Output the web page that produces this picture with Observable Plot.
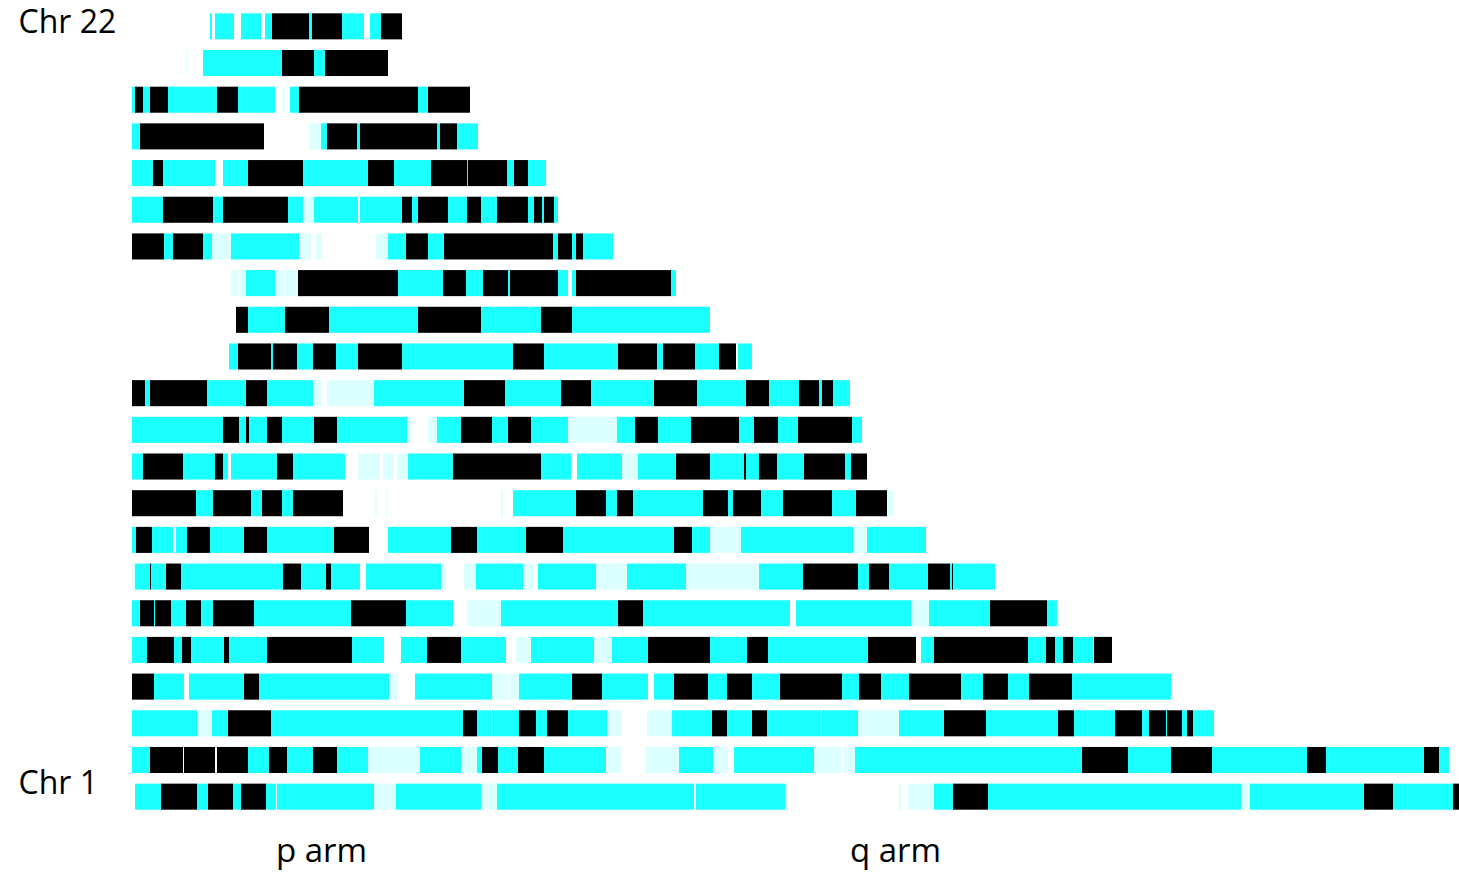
<!DOCTYPE html>
<html>
<head>
<meta charset="utf-8">
<script src="https://cdn.jsdelivr.net/npm/d3@7"></script>
<script src="https://cdn.jsdelivr.net/npm/@observablehq/plot@0.6"></script>
<style>
  html, body { margin: 0; padding: 0; background: #fff; }
  #chart { width: 1459px; height: 873px; }
</style>
</head>
<body>
<div id="chart"></div>
<script>
// Row order, top to bottom
const rows = ["22","21","20","19","18","17","16","15","14","13","12","11","10","9","8","7","6","5","4","3","2","1"];
const rowLabels = [["22", "Chr 22"], ["1", "Chr 1"]];
const armLabels = ["p arm", "q arm"];
const armCenters = [189, 763];
const types = ["c", "k", "l"];
const typeColors = ["#1affff", "#000000", "#dcffff"];

// segments: [start, end, type]  (c = cyan, k = black, l = pale)
const chr22 = [[78,80,"c"],[83,102,"c"],[109,129,"c"],[133,140,"c"],[140,177,"k"],[177,180,"c"],[180,210,"k"],[210,232,"c"],[238,249,"c"],[249,270,"k"]];
const chr21 = [[54,55,"l"],[71,150,"c"],[150,182,"k"],[182,193,"c"],[193,256,"k"]];
const chr20 = [[0,3,"c"],[3,11,"k"],[11,18,"c"],[18,36,"k"],[36,85,"c"],[85,106,"k"],[106,143,"c"],[151,153,"l"],[158,167,"c"],[167,286,"k"],[286,296,"c"],[296,338,"k"]];
const chr19 = [[0,8,"c"],[8,132,"k"],[177,189,"l"],[189,195,"c"],[195,225,"k"],[225,228,"c"],[228,305,"k"],[305,308,"c"],[308,325,"k"],[325,346,"c"]];
const chr18 = [[0,21,"c"],[21,31,"k"],[31,83,"c"],[91,116,"c"],[116,171,"k"],[171,236,"c"],[236,262,"k"],[262,299,"c"],[299,335,"k"],[335,336,"c"],[336,375,"k"],[375,382,"c"],[382,396,"k"],[396,414,"c"]];
const chr17 = [[0,31,"c"],[31,81,"k"],[81,91,"c"],[91,156,"k"],[156,171,"c"],[171,182,"l"],[182,226,"c"],[228,270,"c"],[270,280,"k"],[280,286,"c"],[286,316,"k"],[316,335,"c"],[335,349,"k"],[349,365,"c"],[365,396,"k"],[396,402,"c"],[402,410,"k"],[410,412,"c"],[412,422,"k"],[422,426,"c"]];
const chr16 = [[0,32,"k"],[32,41,"c"],[41,71,"k"],[71,80,"c"],[80,99,"l"],[99,167,"c"],[167,175,"l"],[176,179,"l"],[184,190,"l"],[244,256,"l"],[256,274,"c"],[274,296,"k"],[296,312,"c"],[312,421,"k"],[421,426,"c"],[426,440,"k"],[440,444,"c"],[444,451,"k"],[451,481,"c"]];
const chr15 = [[99,106,"l"],[107,114,"l"],[114,143,"c"],[144,153,"l"],[154,166,"l"],[166,266,"k"],[266,311,"c"],[311,334,"k"],[334,351,"c"],[351,376,"k"],[376,378,"c"],[378,426,"k"],[426,436,"c"],[440,444,"c"],[444,539,"k"],[539,544,"c"]];
const chr14 = [[104,116,"k"],[116,153,"c"],[153,197,"k"],[197,286,"c"],[286,349,"k"],[349,409,"c"],[409,440,"k"],[440,578,"c"]];
const chr13 = [[97,106,"c"],[106,139,"k"],[139,141,"c"],[141,165,"k"],[165,181,"c"],[181,204,"k"],[204,226,"c"],[226,270,"k"],[270,381,"c"],[381,412,"k"],[412,486,"c"],[486,525,"k"],[525,531,"c"],[531,563,"k"],[563,587,"c"],[587,604,"k"],[606,620,"c"]];
const chr12 = [[0,13,"k"],[13,18,"c"],[18,75,"k"],[75,114,"c"],[114,135,"k"],[135,181,"c"],[181,189,"l"],[195,242,"l"],[242,332,"c"],[332,373,"k"],[373,429,"c"],[429,459,"k"],[459,522,"c"],[522,565,"k"],[565,614,"c"],[614,637,"k"],[637,667,"c"],[667,687,"k"],[687,690,"c"],[690,701,"k"],[701,718,"c"]];
const chr11 = [[0,91,"c"],[91,107,"k"],[107,114,"c"],[114,117,"k"],[117,135,"c"],[135,150,"k"],[150,182,"c"],[182,205,"k"],[205,275,"c"],[275,280,"l"],[296,305,"l"],[305,329,"c"],[329,360,"k"],[360,376,"c"],[376,399,"k"],[399,436,"c"],[436,485,"l"],[485,503,"c"],[503,526,"k"],[526,559,"c"],[559,607,"k"],[607,622,"c"],[622,646,"k"],[646,666,"c"],[666,720,"k"],[720,730,"c"]];
const chr10 = [[0,11,"c"],[11,51,"k"],[51,83,"c"],[83,91,"k"],[91,96,"c"],[99,145,"c"],[145,161,"k"],[161,213,"c"],[226,248,"l"],[251,262,"l"],[265,276,"l"],[276,321,"c"],[321,409,"k"],[409,439,"c"],[445,490,"c"],[490,506,"l"],[506,544,"c"],[544,578,"k"],[578,612,"c"],[612,614,"k"],[614,627,"c"],[627,645,"k"],[645,672,"c"],[672,713,"k"],[713,719,"c"],[719,735,"k"]];
const chr9 = [[0,64,"k"],[64,81,"c"],[81,119,"k"],[119,130,"c"],[130,150,"k"],[150,161,"c"],[161,211,"k"],[243,245,"l"],[254,255,"l"],[369,371,"l"],[381,444,"c"],[444,474,"k"],[474,485,"c"],[485,501,"k"],[501,571,"c"],[571,596,"k"],[596,601,"c"],[601,629,"k"],[629,651,"c"],[651,700,"k"],[700,724,"c"],[724,755,"k"],[755,761,"l"]];
const chr8 = [[0,4,"c"],[4,20,"k"],[20,41,"c"],[44,55,"c"],[55,78,"k"],[78,112,"c"],[112,135,"k"],[135,202,"c"],[202,237,"k"],[256,319,"c"],[319,345,"k"],[345,394,"c"],[394,431,"k"],[431,542,"c"],[542,560,"k"],[560,578,"c"],[578,609,"l"],[609,721,"c"],[721,735,"l"],[735,794,"c"]];
const chr7 = [[0,3,"l"],[3,18,"c"],[18,19,"k"],[19,34,"c"],[34,49,"k"],[49,151,"c"],[151,169,"k"],[169,194,"c"],[194,199,"k"],[199,228,"c"],[234,309,"c"],[309,314,"l"],[332,344,"l"],[344,391,"c"],[391,402,"l"],[406,464,"c"],[464,495,"l"],[495,554,"c"],[554,627,"l"],[627,671,"c"],[671,726,"k"],[726,737,"c"],[737,757,"k"],[757,796,"c"],[796,818,"k"],[818,820,"c"],[820,821,"k"],[821,863,"c"]];
const chr6 = [[0,8,"c"],[8,22,"k"],[22,23,"c"],[23,39,"k"],[39,54,"c"],[54,69,"k"],[69,81,"c"],[81,122,"k"],[122,219,"c"],[219,274,"k"],[274,321,"c"],[335,369,"l"],[369,486,"c"],[486,511,"k"],[511,658,"c"],[664,779,"c"],[779,797,"l"],[797,858,"c"],[858,915,"k"],[915,925,"c"]];
const chr5 = [[0,15,"c"],[15,42,"k"],[42,50,"c"],[50,59,"k"],[59,92,"c"],[92,97,"k"],[97,135,"c"],[135,220,"k"],[220,252,"c"],[269,295,"c"],[295,329,"k"],[329,374,"c"],[384,399,"l"],[399,462,"c"],[462,480,"l"],[480,516,"c"],[516,578,"k"],[578,615,"c"],[615,636,"k"],[636,736,"c"],[736,784,"k"],[789,802,"c"],[802,896,"k"],[896,914,"c"],[914,923,"k"],[923,931,"c"],[931,941,"k"],[941,961,"c"],[962,980,"k"]];
const chr4 = [[0,22,"k"],[22,52,"c"],[57,112,"c"],[112,127,"k"],[127,257,"c"],[257,265,"l"],[283,360,"c"],[360,376,"l"],[377,387,"l"],[387,440,"c"],[440,470,"k"],[470,516,"c"],[522,542,"c"],[542,576,"k"],[576,595,"c"],[595,620,"k"],[620,648,"c"],[648,710,"k"],[710,727,"c"],[727,749,"k"],[749,777,"c"],[777,829,"k"],[829,851,"c"],[851,876,"k"],[876,897,"c"],[897,940,"k"],[940,1039,"c"]];
const chr3 = [[0,65,"c"],[65,80,"l"],[80,96,"c"],[96,139,"k"],[139,331,"c"],[331,345,"k"],[345,359,"c"],[360,387,"c"],[387,404,"k"],[404,415,"c"],[415,436,"k"],[436,475,"c"],[475,490,"l"],[515,540,"l"],[540,580,"c"],[580,595,"k"],[595,620,"c"],[620,635,"k"],[635,689,"c"],[690,726,"c"],[726,767,"l"],[767,812,"c"],[812,854,"k"],[854,926,"c"],[926,942,"k"],[942,983,"c"],[983,1010,"k"],[1010,1017,"c"],[1017,1034,"k"],[1034,1035,"c"],[1035,1050,"k"],[1050,1055,"c"],[1055,1061,"k"],[1061,1082,"c"]];
const chr2 = [[0,18,"c"],[18,51,"k"],[52,83,"k"],[85,116,"k"],[116,137,"c"],[137,155,"k"],[155,181,"c"],[181,205,"k"],[205,236,"c"],[236,288,"l"],[288,329,"c"],[329,345,"l"],[345,350,"c"],[350,366,"k"],[366,386,"c"],[386,412,"k"],[412,474,"c"],[476,489,"l"],[513,547,"l"],[547,581,"c"],[581,596,"l"],[602,682,"c"],[682,710,"l"],[711,723,"l"],[723,950,"c"],[950,996,"k"],[996,1039,"c"],[1039,1080,"k"],[1080,1175,"c"],[1175,1194,"k"],[1194,1292,"c"],[1292,1307,"k"],[1307,1317,"c"]];
const chr1 = [[3,29,"c"],[29,65,"k"],[65,70,"c"],[70,76,"c"],[76,101,"k"],[101,109,"c"],[109,134,"k"],[134,144,"c"],[145,242,"c"],[242,264,"l"],[264,349,"c"],[349,365,"l"],[365,562,"c"],[564,653,"c"],[653,656,"l"],[767,769,"l"],[776,785,"l"],[786,801,"l"],[802,821,"c"],[821,856,"k"],[856,1109,"c"],[1109,1118,"l"],[1118,1232,"c"],[1232,1261,"k"],[1261,1321,"c"],[1321,1327,"k"]];

const segmentsByRow = [chr22, chr21, chr20, chr19, chr18, chr17, chr16, chr15, chr14, chr13, chr12, chr11, chr10, chr9, chr8, chr7, chr6, chr5, chr4, chr3, chr2, chr1];

const table = rows.flatMap((r, i) => segmentsByRow[i].map(([s, e, t]) => ({chr: r, start: s, end: e, type: t})));
const rowLabelData = rowLabels.map(([chr, label]) => ({chr, label}));
const armData = armLabels.map((label, i) => ({label, x: armCenters[i]}));

const fontFamily = "'Open Sans', sans-serif";

const chart = Plot.plot({
  width: 1459,
  height: 873,
  marginLeft: 132,
  marginRight: 0,
  marginTop: 8,
  marginBottom: 58,
  style: {background: "#fff", fontFamily, overflow: "visible"},
  x: {domain: [0, 1327], axis: null},
  y: {type: "band", domain: rows, paddingInner: 0.29, paddingOuter: 0.145, round: false, axis: null},
  color: {domain: types, range: typeColors},
  marks: [
    Plot.barX(table, {x1: "start", x2: "end", y: "chr", fill: "type"}),
    Plot.text(rowLabelData.filter(d => d.chr === "22"), {y: "chr", text: "label", frameAnchor: "left", textAnchor: "start", lineAnchor: "middle", dx: -114, dy: -4, fontSize: 32, fill: "#000"}),
    Plot.text(rowLabelData.filter(d => d.chr === "1"), {y: "chr", text: "label", frameAnchor: "left", textAnchor: "start", lineAnchor: "middle", dx: -114, dy: -13, fontSize: 32, fill: "#000"}),
    Plot.text(armData, {x: "x", text: "label", frameAnchor: "bottom", lineAnchor: "middle", dy: 36, fontSize: 33, fill: "#000"})
  ]
});
document.getElementById("chart").appendChild(chart);
</script>
</body>
</html>
